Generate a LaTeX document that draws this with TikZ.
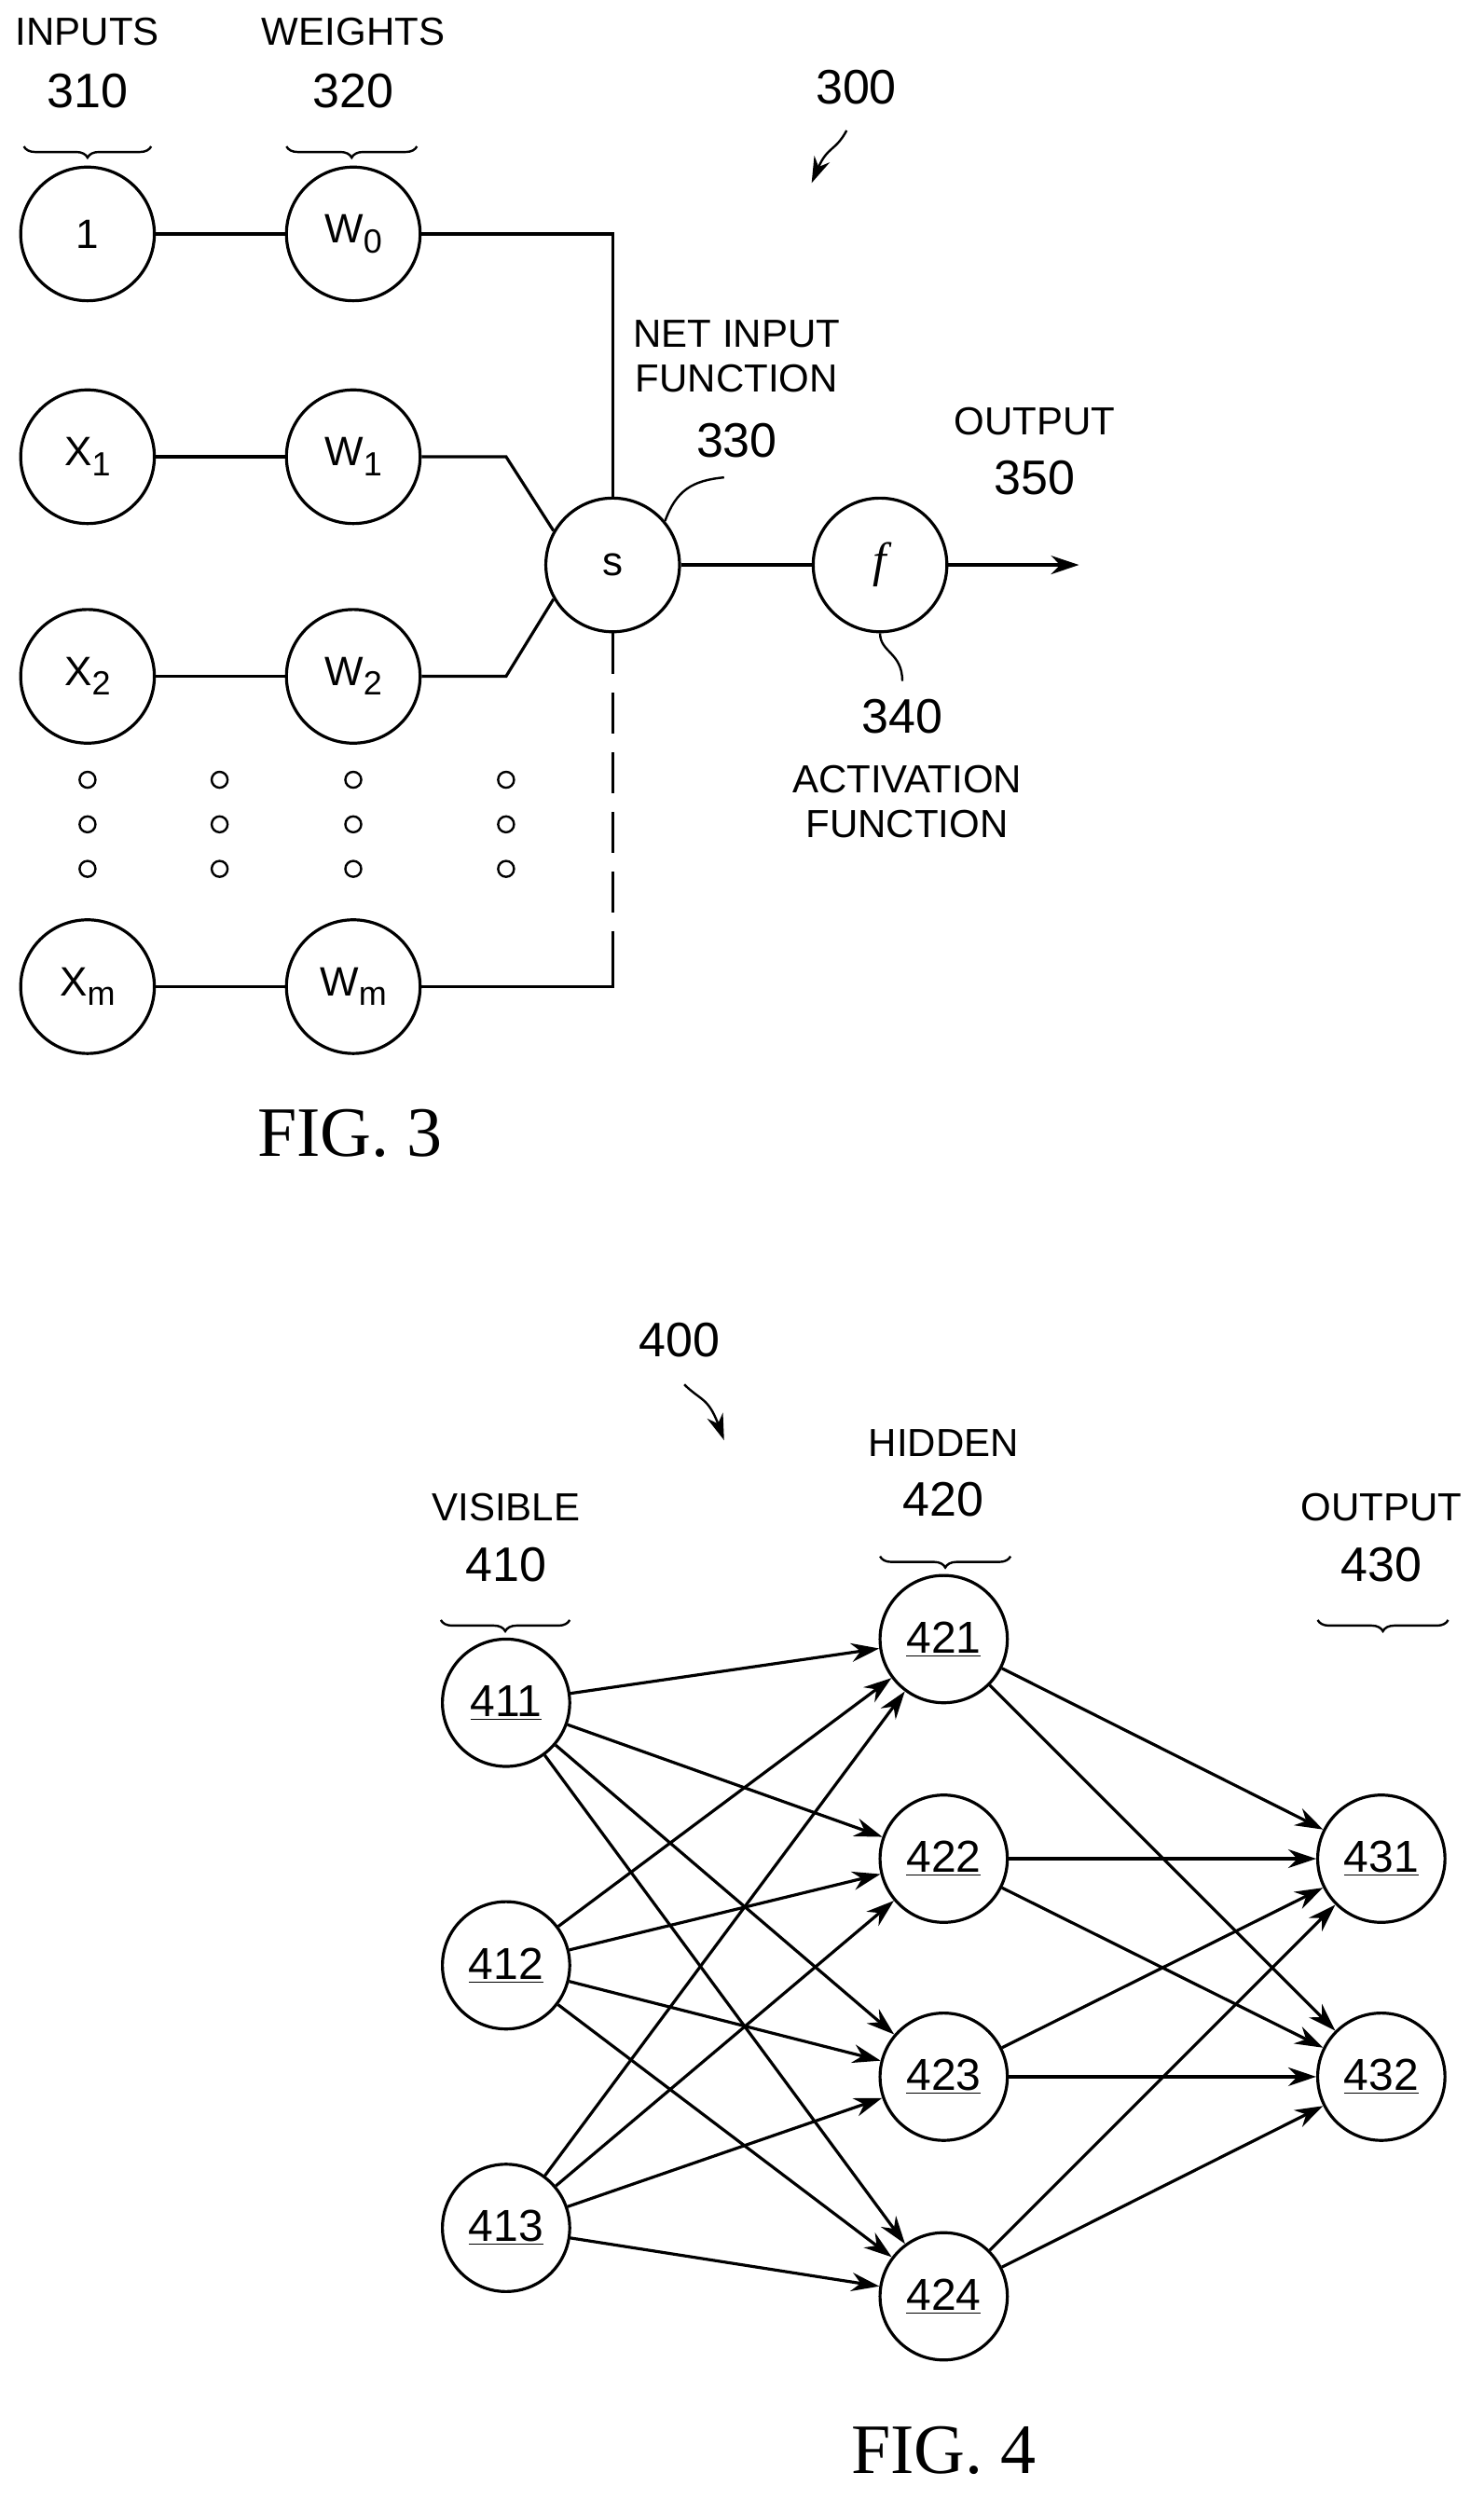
\documentclass[tikz,border=0pt]{standalone}
\usepackage{fontspec}
\setmainfont{Liberation Sans}
\newfontfamily\figfont{Liberation Serif}
\usetikzlibrary{arrows.meta,decorations.pathreplacing}
\newcommand{\sbs}[1]{\raisebox{-0.45ex}{\fontsize{18}{18}\selectfont #1}}
\begin{document}
\begin{tikzpicture}[x=0.03cm,y=-0.03cm,line width=1.6pt,
  unit/.style={circle,draw,minimum size=84*0.03cm,inner sep=0pt,font=\fontsize{22}{24}\selectfont},
  lab/.style={font=\fontsize{21}{24}\selectfont,align=center},
  num/.style={font=\fontsize{26}{28}\selectfont},
  figcap/.style={font=\figfont\fontsize{38}{40}\selectfont},
  brc/.style={decorate,decoration={brace,amplitude=6pt,mirror,raise=0pt},line width=1.2pt},
  edge/.style={-{Stealth[length=15pt,width=10pt]}},
  dot/.style={circle,draw,minimum size=10*0.03cm,inner sep=0pt,line width=1.2pt}]
\useasboundingbox (0,0) rectangle (932,1571);
% Fig. 3
\node[lab] (tin) at (55,20) {INPUTS};
\node[num] (nin) at (55,57) {310};
\draw[brc] (15,92) -- (95,92);
\node[lab] (twt) at (222,20) {WEIGHTS};
\node[num] (nwt) at (222,57) {320};
\draw[brc] (180,92) -- (262,92);
\node[num] (n300) at (538,55) {300};
\draw[-{Stealth[length=14pt,width=9pt]},line width=1.2pt] (532,82) .. controls (525,95) and (520,92) .. (510,115);
\foreach \i/\y/\a/\b in {0/147/1/W\sbs{0},1/287/X\sbs{1}/W\sbs{1},2/425/X\sbs{2}/W\sbs{2},m/620/X\sbs{m}/W\sbs{m}}{
  \node[unit] (x\i) at (55,\y) {\a};
  \node[unit] (w\i) at (222,\y) {\b};
  \draw (x\i) -- (w\i);
}
\foreach \x in {55,138,222,318}
  \foreach \y in {490,518,546} \node[dot] at (\x,\y) {};
\node[unit] (s) at (385,355) {s};
\node[unit] (f) at (553,355) {\figfont\itshape\fontsize{26}{26}\selectfont f};
\draw (w0.east) -| (s.north);
\draw (w1.east) -- (318,287) -- (s.150);
\draw (w2.east) -- (318,425) -- (s.210);
\draw[dashed,dash pattern=on 22pt off 10pt] (s.south) -- (385,585);
\draw (385,585) |- (wm.east);
\draw (s) -- (f);
\coordinate (out) at (678,355);
\draw[edge] (f) -- (out);
\node[lab] (tnet) at (463,224) {NET INPUT\\FUNCTION};
\node[num] (n330) at (463,277) {330};
\draw[line width=1.2pt] (455,300) .. controls (435,302) and (425,308) .. (s.40);
\node[lab] (tout) at (650,265) {OUTPUT};
\node[num] (n350) at (650,300) {350};
\draw[line width=1.2pt] (f.south) .. controls (553,410) and (567,410) .. (567,428);
\node[num] (n340) at (567,450) {340};
\node[lab] (tact) at (570,504) {ACTIVATION\\FUNCTION};
\node[figcap] (fig3) at (220,712) {FIG. 3};
% Fig. 4
\node[num] (n400) at (427,842) {400};
\draw[-{Stealth[length=14pt,width=9pt]},line width=1.2pt] (430,870) .. controls (440,880) and (445,878) .. (455,905);
\node[lab] (tvis) at (318,947) {VISIBLE};
\node[num] (n410) at (318,983) {410};
\draw[brc] (277,1018) -- (358,1018);
\node[lab] (thid) at (593,907) {HIDDEN};
\node[num] (n420) at (593,942) {420};
\draw[brc] (553,978) -- (635,978);
\node[lab] (top) at (868,947) {OUTPUT};
\node[num] (n430) at (868,983) {430};
\draw[brc] (828,1018) -- (910,1018);
\tikzset{unit4/.style={unit,minimum size=80*0.03cm,font=\fontsize{24}{26}\selectfont}}
\foreach \n/\y in {411/1070,412/1235,413/1400}
  \node[unit4] (v\n) at (318,\y) {\underline{\n}};
\foreach \n/\y in {421/1030,422/1168,423/1305,424/1443}
  \node[unit4] (h\n) at (593,\y) {\underline{\n}};
\foreach \n/\y in {431/1168,432/1305}
  \node[unit4] (o\n) at (868,\y) {\underline{\n}};
\foreach \a in {411,412,413}
  \foreach \b in {421,422,423,424} \draw[edge] (v\a) -- (h\b);
\foreach \a in {421,422,423,424}
  \foreach \b in {431,432} \draw[edge] (h\a) -- (o\b);
\node[figcap] (fig4) at (593,1540) {FIG. 4};
\end{tikzpicture}
\end{document}
